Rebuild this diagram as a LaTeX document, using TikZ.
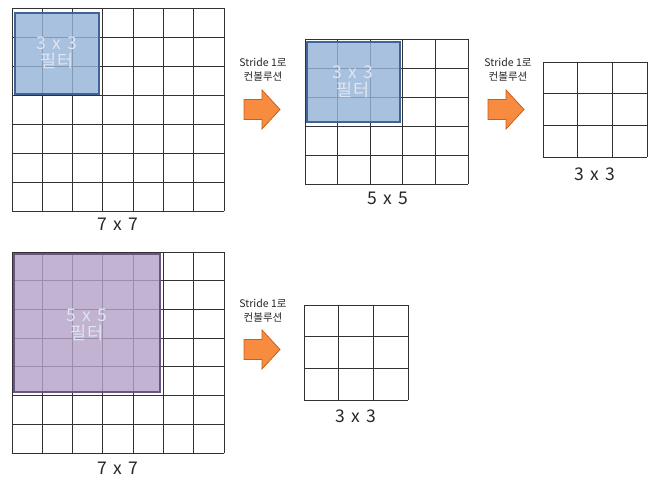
\documentclass[tikz,border=0pt]{standalone}
\usepackage{fontspec}
\setmainfont{Noto Sans CJK KR}
\newfontfamily\lblfont[WordSpace=1.6]{Noto Sans CJK KR}
\definecolor{gridc}{RGB}{50,50,50}
\definecolor{bluefill}{RGB}{149,179,215}
\definecolor{blueedge}{RGB}{65,100,150}
\definecolor{purpfill}{RGB}{179,162,199}
\definecolor{purpedge}{RGB}{105,84,135}
\definecolor{orfill}{RGB}{247,140,65}
\definecolor{oredge}{RGB}{200,95,30}
\definecolor{ftext}{RGB}{222,230,241}
\tikzset{
  gridline/.style={draw=gridc, line width=0.9pt},
  bluefilter/.style={draw=blueedge, fill=bluefill, fill opacity=0.82, line width=1.3pt},
  purpfilter/.style={draw=purpedge, fill=purpfill, fill opacity=0.82, line width=1.2pt},
  filtertext/.style={text=ftext, align=center, font=\lblfont\fontsize{17.5}{18}\selectfont, inner sep=0pt},
  sizelabel/.style={text=black!85, font=\lblfont\fontsize{17.5}{18}\selectfont, inner sep=0pt},
  stridetext/.style={text=black!85, align=center, font=\fontsize{10.5}{14}\selectfont, inner sep=0pt},
  orarrow/.style={draw=oredge, fill=orfill, line width=0.8pt, line join=miter},
}
% grid: name, x0, y0, x1, y1, cols, rows
\newcommand\mygrid[7]{%
  \node[inner sep=0pt, minimum width=#4-#2, minimum height=#5-#3, anchor=north west] (#1) at (#2,#3) {};
  \foreach \i in {0,...,#6}{
    \pgfmathsetmacro\xx{#2+(#4-#2)*\i/#6}
    \draw[gridline] (\xx,#3) -- (\xx,#5);
  }
  \foreach \j in {0,...,#7}{
    \pgfmathsetmacro\yy{#3+(#5-#3)*\j/#7}
    \draw[gridline] (#2,\yy) -- (#4,\yy);
  }
}
% arrow: name, left x, top y
\newcommand\myarrow[3]{%
  \draw[orarrow] (#2,#3+9.5) -- (#2+18,#3+9.5) -- (#2+18,#3) -- (#2+36,#3+19.5)
     -- (#2+18,#3+39) -- (#2+18,#3+29.5) -- (#2,#3+29.5) -- cycle;
  \coordinate (#1) at (#2+18,#3+19.5);
}
\begin{document}
\begin{tikzpicture}[x=1pt, y=-1pt]
\useasboundingbox (0,0) rectangle (661,481);
% top row
\mygrid{gA}{12}{8}{224}{211}{7}{7}
\filldraw[bluefilter] (15,13) rectangle (99,94);
\node[filtertext] (fA) at (57,53) {3 x 3\\필터};
\node[sizelabel] (lA) at (118,224.5) {7 x 7};

\node[stridetext] (sA) at (263,70) {Stride 1로\\컨볼루션};
\myarrow{aA}{244}{90}

\mygrid{gB}{305}{39}{468}{184}{5}{5}
\filldraw[bluefilter] (307,42) rectangle (400,122);
\node[filtertext] (fB) at (353,82) {3 x 3\\필터};
\node[sizelabel] (lB) at (388,198.5) {5 x 5};

\node[stridetext] (sB) at (508,70) {Stride 1로\\컨볼루션};
\myarrow{aB}{488}{90}

\mygrid{gC}{543}{62}{647}{157}{3}{3}
\node[sizelabel] (lC) at (595,174) {3 x 3};

% bottom row
\mygrid{gD}{12}{252}{224}{453}{7}{7}
\filldraw[purpfilter] (14,254) rectangle (160,392);
\node[filtertext] (fD) at (87,325) {5 x 5\\필터};
\node[sizelabel] (lD) at (118,468) {7 x 7};

\node[stridetext] (sD) at (263,310.5) {Stride 1로\\컨볼루션};
\myarrow{aD}{244}{330}

\mygrid{gE}{304}{305}{408}{400}{3}{3}
\node[sizelabel] (lE) at (356,416) {3 x 3};
\end{tikzpicture}
\end{document}
